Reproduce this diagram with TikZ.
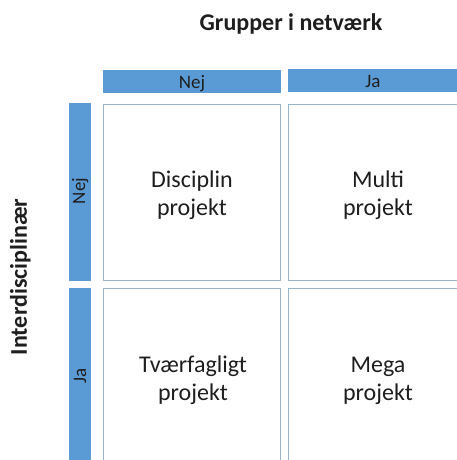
\documentclass[tikz,border=0pt]{standalone}
\usepackage{fontspec}
\setmainfont{Carlito}
\definecolor{barblue}{RGB}{91,155,213}
\definecolor{cellline}{RGB}{150,180,210}
\definecolor{ink}{RGB}{30,30,30}
\begin{document}
\begin{tikzpicture}[x=1pt,y=-1pt,
  bar/.style={fill=barblue,draw=none},
  cell/.style={draw=cellline,line width=1pt,fill=white},
  barlabel/.style={font=\fontsize{19}{22}\selectfont,text=ink,anchor=base,inner sep=0pt},
  celltext/.style={font=\fontsize{24}{28.5}\selectfont,text=ink,align=center,anchor=base,inner sep=0pt},
  axistitle/.style={font=\bfseries\fontsize{24}{28}\selectfont,text=ink,anchor=base,inner sep=0pt}]
\useasboundingbox (0,0) rectangle (456,460);
% column header bars
\path[bar] (103,70) rectangle (281,93);
\path[bar] (288,69) rectangle (470,92);
% row header bars
\path[bar] (69,103) rectangle (91,281);
\path[bar] (69,288) rectangle (91,470);
% cells of the matrix
\draw[cell] (103.5,104) rectangle (280,280.5);
\draw[cell] (288,104) rectangle (470,280.5);
\draw[cell] (103.5,288.5) rectangle (280,470);
\draw[cell] (288,288.5) rectangle (470,470);
% header labels
\node[barlabel] (cnej) at (192,88) {Nej};
\node[barlabel] (cja) at (373,87) {Ja};
\node[barlabel,rotate=90] (rnej) at (85,191) {Nej};
\node[barlabel,rotate=90] (rja) at (86,376) {Ja};
% axis titles
\node[axistitle] (top) at (291,31) {Grupper i netværk};
\node[axistitle,rotate=90] (side) at (27,277) {Interdisciplinær};
% cell texts (base anchor sits on the last line)
\node[celltext] (c11) at (192,215.5) {Disciplin\\projekt};
\node[celltext] (c12) at (378,215.5) {Multi\\projekt};
\node[celltext] (c21) at (193,400.5) {Tværfagligt\\projekt};
\node[celltext] (c22) at (378,400.5) {Mega\\projekt};
\end{tikzpicture}
\end{document}
